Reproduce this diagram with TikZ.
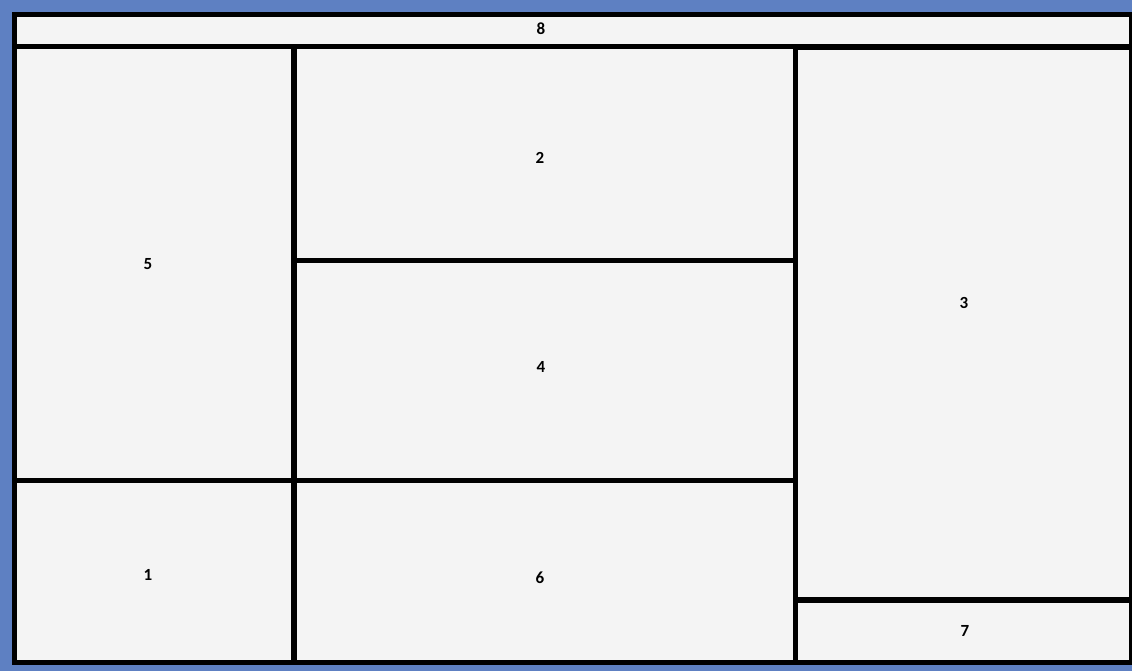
\documentclass[tikz,border=0pt]{standalone}
\usepackage{fontspec}
\setmainfont{Carlito}
\definecolor{frameblue}{HTML}{5E80C2}
\definecolor{paper}{HTML}{F4F4F4}
\tikzset{
  wall/.style={line width=5.5pt, black, line cap=rect},
  lbl/.style={font=\bfseries\fontsize{17}{18}\selectfont, inner sep=0pt}
}
\begin{document}
\begin{tikzpicture}[x=1pt,y=-1pt]
\useasboundingbox (0,0) rectangle (1132,671);
\fill[frameblue] (0,0) rectangle (1132,671);
\fill[paper] (12,12) rectangle (1132,665);
% outer walls
\draw[wall] (14.5,14.5) -- (1130,14.5);
\draw[wall] (14.5,14.5) -- (14.5,662.5);
\draw[wall] (14.5,662.5) -- (1130,662.5);
\draw[line width=3pt] (1130.5,14.5) -- (1130.5,662.5);
% inner walls
\draw[wall] (14.5,46.5) -- (1130,46.5);
\draw[line width=3pt] (795,48.5) -- (1130,48.5);
\draw[wall] (294,46.5) -- (294,662.5);
\draw[wall] (795.5,46.5) -- (795.5,662.5);
\draw[wall] (294,260.5) -- (795.5,260.5);
\draw[wall] (14.5,480.5) -- (795.5,480.5);
\draw[wall] (795.5,600) -- (1130,600);
% labels
\node[lbl] (r8) at (541,29) {8};
\node[lbl] (r2) at (540,158) {2};
\node[lbl] (r5) at (148,264) {5};
\node[lbl] (r3) at (964,303) {3};
\node[lbl] (r4) at (541,367) {4};
\node[lbl] (r1) at (148,575) {1};
\node[lbl] (r6) at (540,578) {6};
\node[lbl] (r7) at (965,631) {7};
\end{tikzpicture}
\end{document}
